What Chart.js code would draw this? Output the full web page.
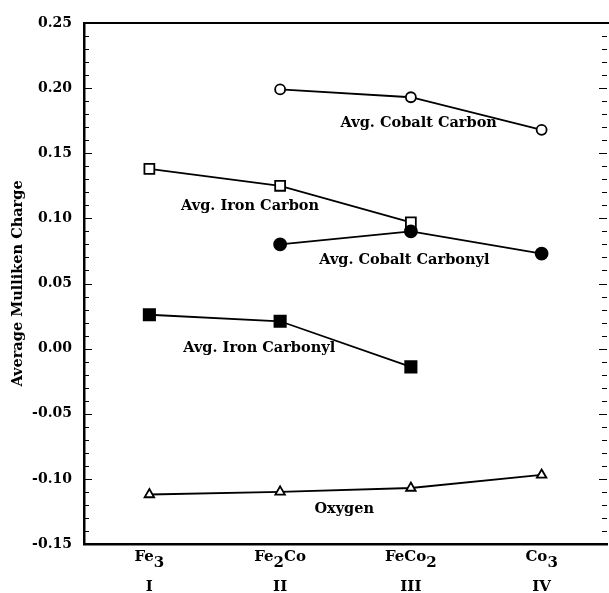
<!DOCTYPE html>
<html>
<head>
<meta charset="utf-8">
<script src="https://cdn.jsdelivr.net/npm/chart.js@4.4.1/dist/chart.umd.min.js"></script>
<style>
  html, body { margin: 0; padding: 0; background: #fff; }
  #wrap { width: 609px; height: 593px; }
</style>
</head>
<body>
<div id="wrap"><canvas id="chargeChart" width="609" height="593"></canvas></div>
<script>
// clusters along x: formula pieces ([text, isSubscript]) and roman numeral
const categories = ['Fe3', 'Fe2Co', 'FeCo2', 'Co3'];
const formulaParts = [
    [['Fe', false], ['3', true]],
    [['Fe', false], ['2', true], ['Co', false]],
    [['FeCo', false], ['2', true]],
    [['Co', false], ['3', true]]
];
const romanLabels = ['I', 'II', 'III', 'IV'];

// average Mulliken charges
const cobaltCarbon = [null, 0.199, 0.193, 0.168];
const ironCarbon = [0.138, 0.125, 0.097, null];
const cobaltCarbonyl = [null, 0.080, 0.090, 0.073];
const ironCarbonyl = [0.026, 0.021, -0.014, null];
const oxygen = [-0.112, -0.110, -0.107, -0.097];

const yTicks = [-0.15, -0.10, -0.05, 0.00, 0.05, 0.10, 0.15, 0.20, 0.25];

const seriesNames = ['Avg. Cobalt Carbon', 'Avg. Iron Carbon', 'Avg. Cobalt Carbonyl', 'Avg. Iron Carbonyl', 'Oxygen'];
// where each name sits, in data units [category index, charge]
const noteAnchors = [[2.06, 0.173], [0.77, 0.109], [1.95, 0.068], [0.84, 0.0], [1.49, -0.123]];

const SERIF = '"DejaVu Serif", "Liberation Serif", serif';

const makeSeries = (label, data, pointStyle, filled, radius) => ({
    label,
    data,
    borderColor: '#000',
    borderWidth: 1.8,
    pointStyle,
    pointRadius: radius,
    pointHoverRadius: radius,
    pointBackgroundColor: filled ? '#000' : '#fff',
    pointBorderColor: '#000',
    pointBorderWidth: 1.8,
    tension: 0,
    fill: false
});

// top frame line, inward ticks, series notes and the x labels with subscripts
const decorations = {
    id: 'decorations',
    afterDraw(chart) {
        const { ctx, chartArea: a, scales: { x, y } } = chart;
        ctx.save();
        ctx.strokeStyle = '#000';
        ctx.fillStyle = '#000';

        ctx.lineWidth = 2;
        ctx.beginPath();
        ctx.moveTo(a.left - 1, a.top);
        ctx.lineTo(chart.width, a.top);
        ctx.stroke();

        ctx.lineWidth = 1.2;
        const lo = Math.round(y.min * 100), hi = Math.round(y.max * 100);
        for (let i = lo; i <= hi; i++) {
            const py = Math.round(y.getPixelForValue(i / 100)) + 0.5;
            const len = i % 5 === 0 ? 8 : 5;
            ctx.beginPath();
            ctx.moveTo(a.left, py); ctx.lineTo(a.left + len, py);
            ctx.moveTo(a.right, py); ctx.lineTo(a.right - len, py);
            ctx.stroke();
        }

        ctx.font = 'bold 14.5px ' + SERIF;
        ctx.textAlign = 'center';
        ctx.textBaseline = 'middle';
        seriesNames.forEach((name, i) => {
            const [cx, cv] = noteAnchors[i];
            ctx.fillText(name, x.getPixelForValue(cx), y.getPixelForValue(cv));
        });

        // x labels: formula with lowered digits, then the numeral
        const big = 'bold 15px ' + SERIF;
        ctx.textAlign = 'left';
        ctx.textBaseline = 'alphabetic';
        categories.forEach((c, i) => {
            const px = x.getPixelForValue(i);
            ctx.font = big;
            const widths = formulaParts[i].map(([t]) => ctx.measureText(t).width);
            let cur = px - widths.reduce((s, w) => s + w, 0) / 2;
            formulaParts[i].forEach(([t, sub], k) => {
                ctx.fillText(t, cur, a.bottom + (sub ? 23 : 17));
                cur += widths[k];
            });
            ctx.textAlign = 'center';
            ctx.fillText(romanLabels[i], px, a.bottom + 47);
            ctx.textAlign = 'left';
        });
        ctx.restore();
    }
};

new Chart(document.getElementById('chargeChart'), {
    type: 'line',
    data: {
        labels: categories,
        datasets: [
            makeSeries('Avg. Cobalt Carbon', cobaltCarbon, 'circle', false, 5),
            makeSeries('Avg. Cobalt Carbonyl', cobaltCarbonyl, 'circle', true, 6),
            makeSeries('Avg. Iron Carbon', ironCarbon, 'rect', false, 7),
            makeSeries('Avg. Iron Carbonyl', ironCarbonyl, 'rect', true, 8),
            makeSeries('Oxygen', oxygen, 'triangle', false, 5.5)
        ]
    },
    options: {
        responsive: false,
        animation: false,
        events: [],
        layout: { autoPadding: false, padding: { top: 23, right: 2, left: 0, bottom: 0 } },
        plugins: { legend: { display: false }, tooltip: { enabled: false } },
        scales: {
            x: {
                type: 'category',
                offset: true,
                grid: { display: false },
                border: { display: true, color: '#000', width: 2.5 },
                ticks: { display: false },
                afterFit(s) { s.height = 49; }
            },
            y: {
                min: -0.15,
                max: 0.25,
                afterBuildTicks(s) { s.ticks = yTicks.map(v => ({ value: v })); },
                grid: { display: false },
                border: { display: true, color: '#000', width: 2.5 },
                ticks: {
                    color: '#000',
                    padding: 4,
                    font: { family: SERIF, size: 14, weight: 'bold' },
                    callback: v => v.toFixed(2)
                },
                title: {
                    display: true,
                    text: 'Average Mulliken Charge',
                    color: '#000',
                    padding: { top: 10, bottom: 0 },
                    font: { family: SERIF, size: 14.5, weight: 'bold' }
                },
                afterFit(s) { s.width = 84; }
            }
        }
    },
    plugins: [decorations]
});
</script>
</body>
</html>
